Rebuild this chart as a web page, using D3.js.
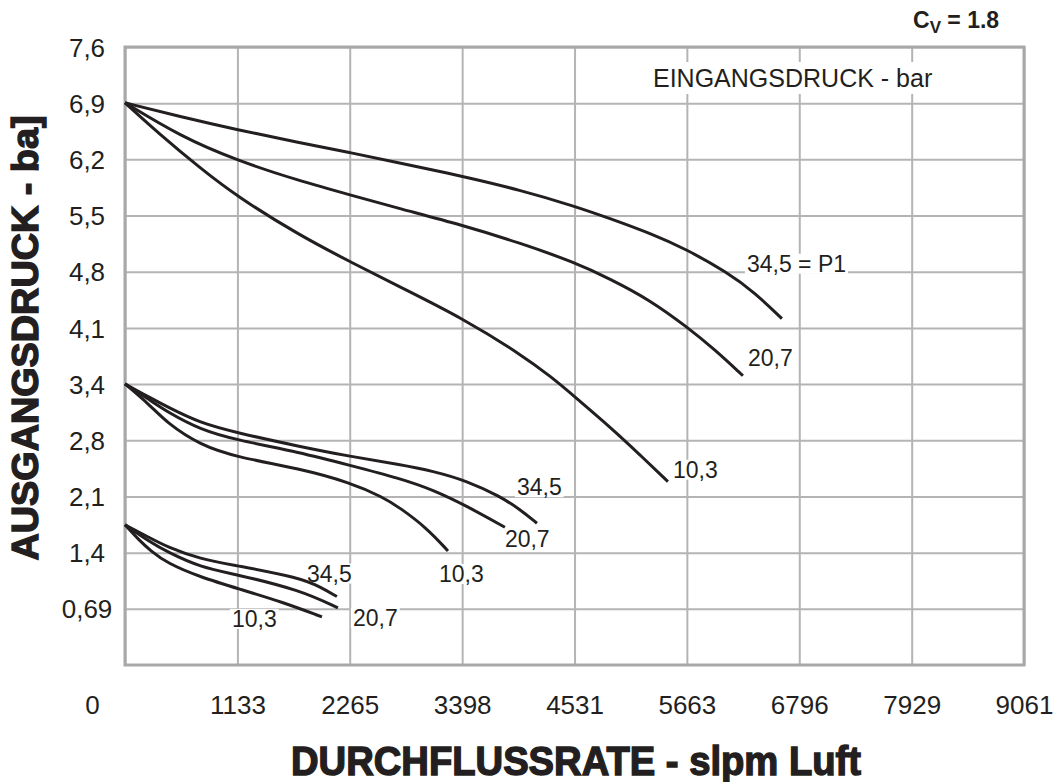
<!DOCTYPE html>
<html>
<head>
<meta charset="utf-8">
<script src="https://cdn.jsdelivr.net/npm/d3@7"></script>
<style>
  body { margin: 0; background: #fff; }
  svg { display: block; font-family: "Liberation Sans", Arial, sans-serif; }
</style>
</head>
<body>
<svg id="chart" width="1060" height="782"></svg>
<script>
// ---- data (slpm, bar) ----
const xTickLabels = ['0', '1133', '2265', '3398', '4531', '5663', '6796', '7929', '9061'];
const yTickLabels = ['0,69', '1,4', '2,1', '2,8', '3,4', '4,1', '4,8', '5,5', '6,2', '6,9', '7,6'];
const BAR_STEP = 0.6895;  // one grid row = 10 psi in bar

// P2 set ~6,9 bar
const hi345 = [[0,6.9],[554,6.73],[1129,6.57],[1763,6.41],[2267,6.29],[2771,6.16],[3396,6.00],[3980,5.83],[4535,5.63],[4887,5.48],[5290,5.30],[5663,5.10],[6066,4.82],[6349,4.57],[6621,4.25]];
const hi207 = [[0,6.9],[554,6.49],[1129,6.19],[1763,5.94],[2267,5.77],[2771,5.60],[3396,5.40],[3980,5.18],[4535,4.94],[4887,4.74],[5290,4.48],[5663,4.15],[5945,3.87],[6228,3.55]];
const hi103 = [[0,6.9],[353,6.51],[756,6.10],[1129,5.75],[1763,5.27],[2267,4.95],[2771,4.64],[3396,4.26],[3980,3.82],[4303,3.53],[4535,3.29],[4918,2.89],[5190,2.58],[5472,2.25]];
// P2 set ~3,4 bar
const mid345 = [[0,3.45],[252,3.28],[423,3.17],[756,2.97],[1129,2.85],[1763,2.68],[2267,2.56],[2771,2.46],[3104,2.38],[3446,2.26],[3779,2.07],[3980,1.91],[4152,1.74]];
const mid207 = [[0,3.45],[252,3.25],[423,3.11],[756,2.89],[1129,2.76],[1763,2.61],[2267,2.45],[2771,2.29],[3104,2.15],[3446,1.95],[3829,1.69]];
const mid103 = [[0,3.45],[252,3.19],[423,2.97],[756,2.70],[1129,2.55],[1763,2.41],[2267,2.24],[2600,2.06],[2771,1.93],[3043,1.68],[3255,1.40]];
// P2 set ~1,7 bar
const lo345 = [[0,1.72],[252,1.56],[423,1.45],[756,1.30],[1129,1.22],[1763,1.07],[1965,0.96],[2136,0.84]];
const lo207 = [[0,1.72],[252,1.51],[423,1.39],[756,1.20],[1129,1.11],[1763,0.92],[2146,0.70]];
const lo103 = [[0,1.72],[151,1.52],[252,1.41],[423,1.25],[756,1.08],[1159,0.93],[1592,0.77],[1985,0.59]];

const curveLabels = ['34,5 = P1', '20,7', '10,3', '34,5', '20,7', '10,3', '34,5', '20,7', '10,3'];

// ---- layout ----
const svg = d3.select('#chart');
const plot = { left: 125, top: 47, right: 1024, bottom: 665 };
const ink = '#231f20';
const gridColor = '#b4b4b4';

const x = d3.scaleLinear().domain([0, +xTickLabels[xTickLabels.length-1]]).range([plot.left, plot.right]);
const y = d3.scaleLinear().domain([0, yTickLabels.length * BAR_STEP]).range([plot.bottom, plot.top]);

// grid via axes
const gx = svg.append('g')
  .attr('transform', `translate(0,${plot.bottom})`)
  .call(d3.axisBottom(x)
    .tickValues(xTickLabels.map(Number))
    .tickFormat((d,i)=>xTickLabels[i])
    .tickSize(-(plot.bottom-plot.top))
    .tickPadding(0));
gx.select('.domain').remove();
gx.selectAll('.tick line').attr('stroke', gridColor).attr('stroke-width', 2);
gx.selectAll('.tick text')
  .attr('fill', ink).attr('font-size', 26).attr('font-family', '"Liberation Sans", Arial, sans-serif')
  .attr('y', 49).attr('dy', 0)
  .attr('dx', (d,i)=> i===0 ? -33 : 0);

const yVals = yTickLabels.map((_,i)=>(i+1)*BAR_STEP);
const gy = svg.append('g')
  .attr('transform', `translate(${plot.left},0)`)
  .call(d3.axisLeft(y)
    .tickValues(yVals)
    .tickFormat((d,i)=>yTickLabels[i])
    .tickSize(-(plot.right-plot.left))
    .tickPadding(0));
gy.select('.domain').remove();
gy.selectAll('.tick line').attr('stroke', gridColor).attr('stroke-width', 2);
gy.selectAll('.tick text')
  .attr('fill', ink).attr('font-size', 26).attr('font-family', '"Liberation Sans", Arial, sans-serif')
  .attr('text-anchor', 'middle')
  .attr('x', -38).attr('dy', '0.35em');

// frame
svg.append('rect')
  .attr('x', plot.left).attr('y', plot.top)
  .attr('width', plot.right-plot.left).attr('height', plot.bottom-plot.top)
  .attr('fill', 'none').attr('stroke', '#a8a8a8').attr('stroke-width', 3);

// legend heading with white backing
const head = svg.append('g');
const headText = head.append('text')
  .attr('x', 653).attr('y', 87)
  .attr('font-size', 25).attr('fill', ink)
  .text('EINGANGSDRUCK - bar');
let bb = headText.node().getBBox();
head.insert('rect', 'text')
  .attr('x', bb.x-12).attr('y', bb.y-2).attr('width', bb.width+24).attr('height', bb.height+4)
  .attr('fill', '#fff');

// curves
const series = [hi345, hi207, hi103, mid345, mid207, mid103, lo345, lo207, lo103]
  .map((pts,i)=>({ pts, label: curveLabels[i] }));
// label offsets from the curve end (px)
const labelOffset = [[-35,-47],[5,-10],[5,-4],[-20,-28],[0,20],[-9,31],[-30,-15],[15,18],[-90,10]];

const gLabels = svg.append('g');
series.forEach((s,i)=>{
  const end = s.pts[s.pts.length-1];
  const g = gLabels.append('g');
  const t = g.append('text')
    .attr('x', x(end[0]) + labelOffset[i][0])
    .attr('y', y(end[1]) + labelOffset[i][1])
    .attr('font-size', 23).attr('fill', ink)
    .text(s.label);
  const b = t.node().getBBox();
  g.insert('rect','text')
    .attr('x', b.x-2).attr('y', b.y+3).attr('width', b.width+4).attr('height', b.height-6)
    .attr('fill', '#fff');
});

const line = d3.line()
  .x(d=>x(d[0])).y(d=>y(d[1]))
  .curve(d3.curveBasis);

svg.append('g').selectAll('path').data(series).join('path')
  .attr('d', d=>line(d.pts))
  .attr('fill', 'none')
  .attr('stroke', ink)
  .attr('stroke-width', 3)
  .attr('stroke-linejoin', 'round');

// axis titles
svg.append('text')
  .attr('transform', 'translate(38,338) rotate(-90)')
  .attr('text-anchor', 'middle')
  .attr('font-size', 37).attr('font-weight', 'bold')
  .attr('fill', ink).attr('stroke', ink).attr('stroke-width', 1.4)
  .attr('textLength', 445).attr('lengthAdjust', 'spacingAndGlyphs')
  .text('AUSGANGSDRUCK - ba]');

svg.append('text')
  .attr('x', 576).attr('y', 775)
  .attr('text-anchor', 'middle')
  .attr('font-size', 40).attr('font-weight', 'bold')
  .attr('fill', ink).attr('stroke', ink).attr('stroke-width', 1.4)
  .attr('textLength', 570).attr('lengthAdjust', 'spacingAndGlyphs')
  .text('DURCHFLUSSRATE - slpm Luft');

// Cv note
const cv = svg.append('text')
  .attr('x', 913).attr('y', 28)
  .attr('font-size', 23).attr('font-weight', 'bold').attr('fill', ink);
cv.append('tspan').text('C');
cv.append('tspan').attr('font-size', 17).attr('dy', 5).text('V');
cv.append('tspan').attr('dy', -5).text(' = 1.8');
</script>
</body>
</html>
